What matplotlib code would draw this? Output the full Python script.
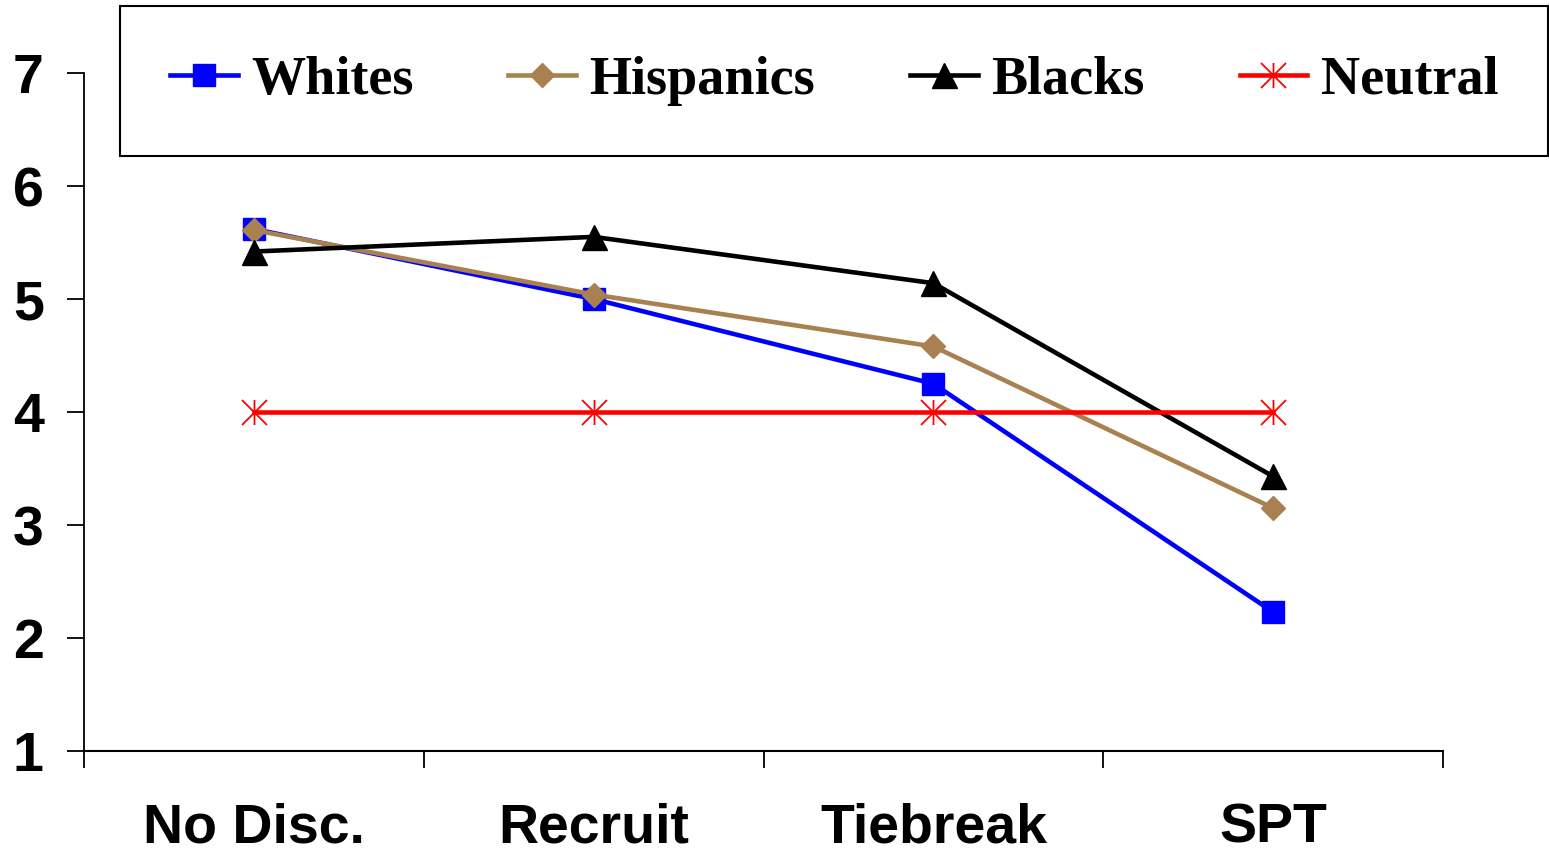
import numpy as np
import matplotlib.pyplot as plt
from matplotlib.path import Path

categories = ["No Disc.", "Recruit", "Tiebreak", "SPT"]
whites = [5.62, 5.00, 4.25, 2.23]
hispanics = [5.61, 5.04, 4.58, 3.15]
blacks = [5.42, 5.55, 5.14, 3.43]
neutral = [4, 4, 4, 4]

# excel style asterisk: vertical bar plus an X
asterisk = Path([(0, -1), (0, 1), (-1, -1), (1, 1), (-1, 1), (1, -1)],
                [Path.MOVETO, Path.LINETO, Path.MOVETO, Path.LINETO, Path.MOVETO, Path.LINETO])

fig = plt.figure(figsize=(15.49, 8.52), dpi=100)
ax = fig.add_axes([0.0542, 0.1185, 0.8774, 0.7958])

x = np.arange(len(categories)) + 0.5
ax.plot(x, whites, color="#0000FF", lw=3.3, marker="s", ms=15.5, mec="#0000FF", label="Whites")
ax.plot(x, hispanics, color="#A98150", lw=3.3, marker="D", ms=12, mec="#A98150", label="Hispanics")
ax.plot(x, blacks, color="black", lw=3.3, marker="^", ms=18, mec="black", label="Blacks")
ax.plot(x, neutral, color="#FF0000", lw=3.3, marker=asterisk, ms=18, mfc="none",
        mec="#FF0000", mew=1.3, label="Neutral")

ax.set_xlim(0, 4)
ax.set_ylim(1, 7)
ax.set_yticks(range(1, 8))
ax.set_xticks(range(0, 5))
ax.set_xticklabels([])
ax.set_xticks(x, minor=True)
ax.set_xticklabels(categories, minor=True)

for s in ["top", "right"]:
    ax.spines[s].set_visible(False)
ax.spines["left"].set_linewidth(1.3)
ax.spines["bottom"].set_linewidth(1.5)
ax.tick_params(axis="y", direction="out", length=12, width=1.3, pad=17,
               labelsize=40)
ax.tick_params(axis="x", which="major", direction="out", length=12, width=1.3)
ax.tick_params(axis="x", which="minor", length=0, pad=37, labelsize=40)
for lab in ax.get_yticklabels() + ax.get_xticklabels(minor=True):
    lab.set_fontfamily("Liberation Sans")
    lab.set_fontweight("bold")

leg = fig.legend(loc="upper left", bbox_to_anchor=(120 / 1549, 1 - 6 / 852),
                 ncol=4, borderaxespad=0, fancybox=False, framealpha=1,
                 edgecolor="black", handlelength=1.25, handletextpad=0.25,
                 columnspacing=1.75, borderpad=0.92, numpoints=1,
                 prop={"family": "Liberation Serif", "weight": "bold", "size": 39})
leg.get_frame().set_linewidth(1.5)

fig.savefig("out.png", dpi=100)
